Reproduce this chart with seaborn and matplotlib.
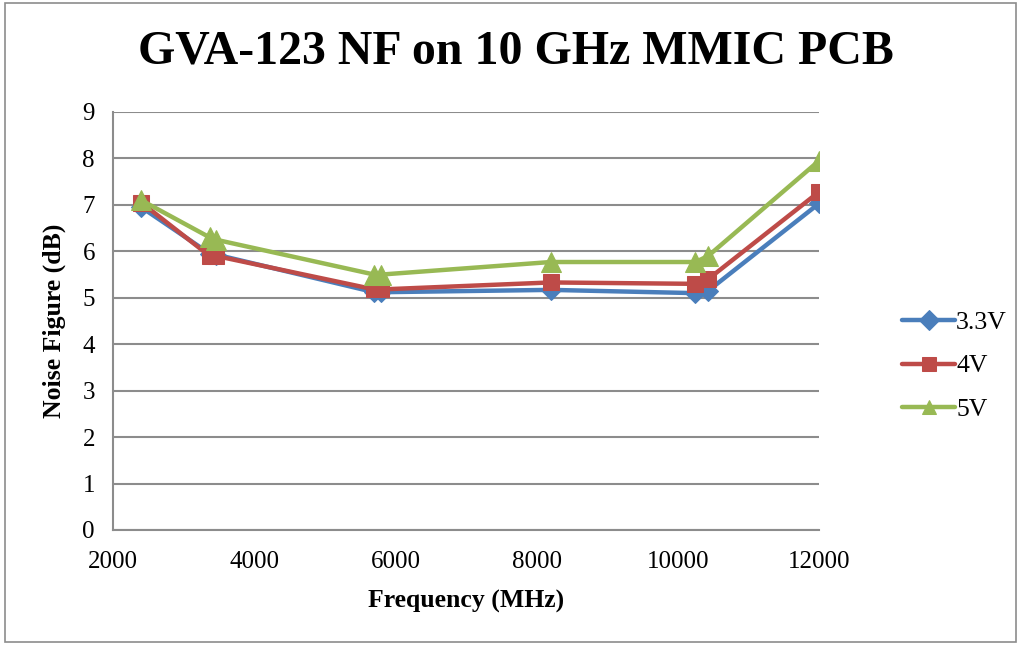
import matplotlib
matplotlib.use("Agg")
import matplotlib.pyplot as plt
import seaborn as sns
import pandas as pd
from matplotlib.patches import Rectangle

# ---- data ----
freq_mhz = [2400, 3370, 3460, 5700, 5800, 8200, 10250, 10430, 12000]
nf_3v3 = [6.95, 5.95, 5.93, 5.12, 5.12, 5.17, 5.10, 5.15, 7.03]
nf_4v = [7.05, 5.90, 5.90, 5.18, 5.18, 5.33, 5.30, 5.40, 7.28]
nf_5v = [7.10, 6.30, 6.25, 5.50, 5.50, 5.77, 5.77, 5.90, 7.95]
series_names = ["3.3V", "4V", "5V"]
x_ticks = [2000, 4000, 6000, 8000, 10000, 12000]
y_ticks = [0, 1, 2, 3, 4, 5, 6, 7, 8, 9]

title = "GVA-123 NF on 10 GHz MMIC PCB"
x_label = "Frequency (MHz)"
y_label = "Noise Figure (dB)"

df = pd.concat([
    pd.DataFrame({"freq": freq_mhz, "nf": vals, "series": name})
    for name, vals in zip(series_names, [nf_3v3, nf_4v, nf_5v])
], ignore_index=True)

sns.set_theme(style="white")
plt.rcParams["font.family"] = ["Liberation Serif", "DejaVu Serif"]
plt.rcParams["text.color"] = "black"
plt.rcParams["axes.labelcolor"] = "black"

palette = {"3.3V": "#4A7EBB", "4V": "#BE4B48", "5V": "#98B954"}
markers = {"3.3V": "D", "4V": "s", "5V": "^"}

fig = plt.figure(figsize=(10.19, 6.46), dpi=100)
ax = fig.add_axes([113 / 1019, 1 - 530 / 646, 706 / 1019, 418 / 646])

sns.lineplot(data=df, x="freq", y="nf", hue="series", style="series",
             palette=palette, markers=markers, dashes=False, estimator=None,
             sort=False, linewidth=3.2, markersize=12, ax=ax)

for ln in ax.lines:
    ln.set_markeredgecolor(ln.get_color())
    ln.set_markerfacecolor(ln.get_color())
    if ln.get_marker() == "^":
        ln.set_markersize(14)
    elif ln.get_marker() == "D":
        ln.set_markersize(10)

ax.set_xlim(2000, 12000)
ax.set_ylim(0, 9)
ax.set_xticks(x_ticks)
ax.set_yticks(y_ticks)
ax.set_xticklabels([str(t) for t in x_ticks], fontsize=18, color="black")
ax.set_yticklabels([str(t) for t in y_ticks], fontsize=18, color="black")

ax.yaxis.grid(True, color="#8C8C8C", linewidth=1.5)
ax.xaxis.grid(False)
ax.set_axisbelow(True)
for side in ["top", "right"]:
    ax.spines[side].set_visible(False)
for side in ["left", "bottom"]:
    ax.spines[side].set_color("#8C8C8C")
    ax.spines[side].set_linewidth(1.5)
ax.tick_params(axis="both", which="major", direction="out", length=5,
               width=1.5, color="#8C8C8C", labelcolor="black", pad=8)
ax.tick_params(axis="x", pad=10)

ax.set_xlabel(x_label, fontsize=18.5, fontweight="bold", labelpad=12,
              color="black")
ax.set_ylabel(y_label, fontsize=18.5, fontweight="bold", labelpad=12,
              color="black")

fig.text(516 / 1019, 1 - 52 / 646, title, ha="center", va="center",
         fontsize=34.5, fontweight="bold", color="black")

handles, labels = ax.get_legend_handles_labels()
for h in handles:
    h.set_markeredgecolor(h.get_color())
    h.set_markerfacecolor(h.get_color())
    h.set_markersize(10)
ax.get_legend().remove()
leg = fig.legend(handles, labels, loc="center left",
                 bbox_to_anchor=(892 / 1019, 1 - 366 / 646), frameon=False,
                 fontsize=18.5, handlelength=2.05, handletextpad=0.05,
                 labelspacing=0.8, borderaxespad=0)
for t in leg.get_texts():
    t.set_color("black")

fig.patches.append(Rectangle((5 / 1019, 4 / 646), 1011 / 1019, 639 / 646,
                             transform=fig.transFigure, fill=False,
                             edgecolor="#8C8C8C", linewidth=1.2))

fig.savefig("out.png", dpi=100)
